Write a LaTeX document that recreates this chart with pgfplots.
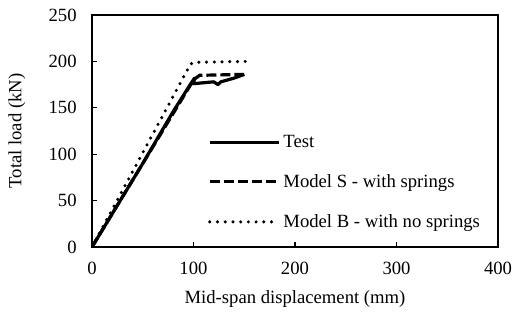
\documentclass[border=0pt]{standalone}
\usepackage{pgfplots}
\pgfplotsset{compat=1.18}
\usepackage{fontspec}
\setmainfont{Liberation Serif}
\begin{document}
\begin{tikzpicture}
\path[use as bounding box] (-69pt,-51pt) rectangle (316.5pt,185.25pt);
\begin{axis}[
  at={(0,0)}, anchor=south west,
  scale only axis, width=304.5pt, height=174pt,
  xmin=0, xmax=400, ymin=0, ymax=250,
  xtick={0,100,200,300,400}, ytick={0,50,100,150,200,250},
  tick align=inside, major tick length=3.5pt,
  xtick pos=bottom, ytick pos=left,
  axis line style={line width=0.9pt}, tick style={line width=0.8pt, black},
  /pgf/number format/assume math mode=true,
  tick label style={font=\fontsize{14}{16}\selectfont},
  xticklabel style={yshift=-8pt},
  yticklabel style={xshift=-8pt},
  label style={font=\fontsize{14}{16}\selectfont},
  xlabel={Mid-span displacement (mm)},
  ylabel={Total load (kN)},
  xlabel style={at={(axis description cs:0.5,0)}, anchor=center, yshift=-39pt},
  ylabel style={at={(axis description cs:0,0.5)}, anchor=center, yshift=56.25pt},
  legend style={draw=none, fill=none, at={(axis description cs:0.285,0.495)}, anchor=north west,
    font=\fontsize{14}{16}\selectfont, row sep=14.8pt, inner sep=0pt},
  legend cell align=left,
  legend image code/.code={\draw[#1] (0pt,0pt) -- (52pt,0pt);},
]
\addplot[black, line width=2.4pt, line join=round] coordinates {
(0,0) (20,36) (50,90) (80,146) (95,172) (101,182) (100,176) (110,177) (120,178) (124,175) (127,178) (140,182) (150,186)};
\addlegendentry{Test}
\addplot[black, line width=2.4pt, dash pattern=on 7.5pt off 3pt] coordinates {
(0,0) (100,180) (106,185) (150,186)};
\addlegendentry{Model S - with springs}
\addplot[black, line width=2.6pt, line cap=round, dash pattern=on 0pt off 5.8pt] coordinates {
(0,0) (97,197) (100,199) (155,200)};
\addlegendentry{Model B - with no springs}
\end{axis}
\end{tikzpicture}
\end{document}
